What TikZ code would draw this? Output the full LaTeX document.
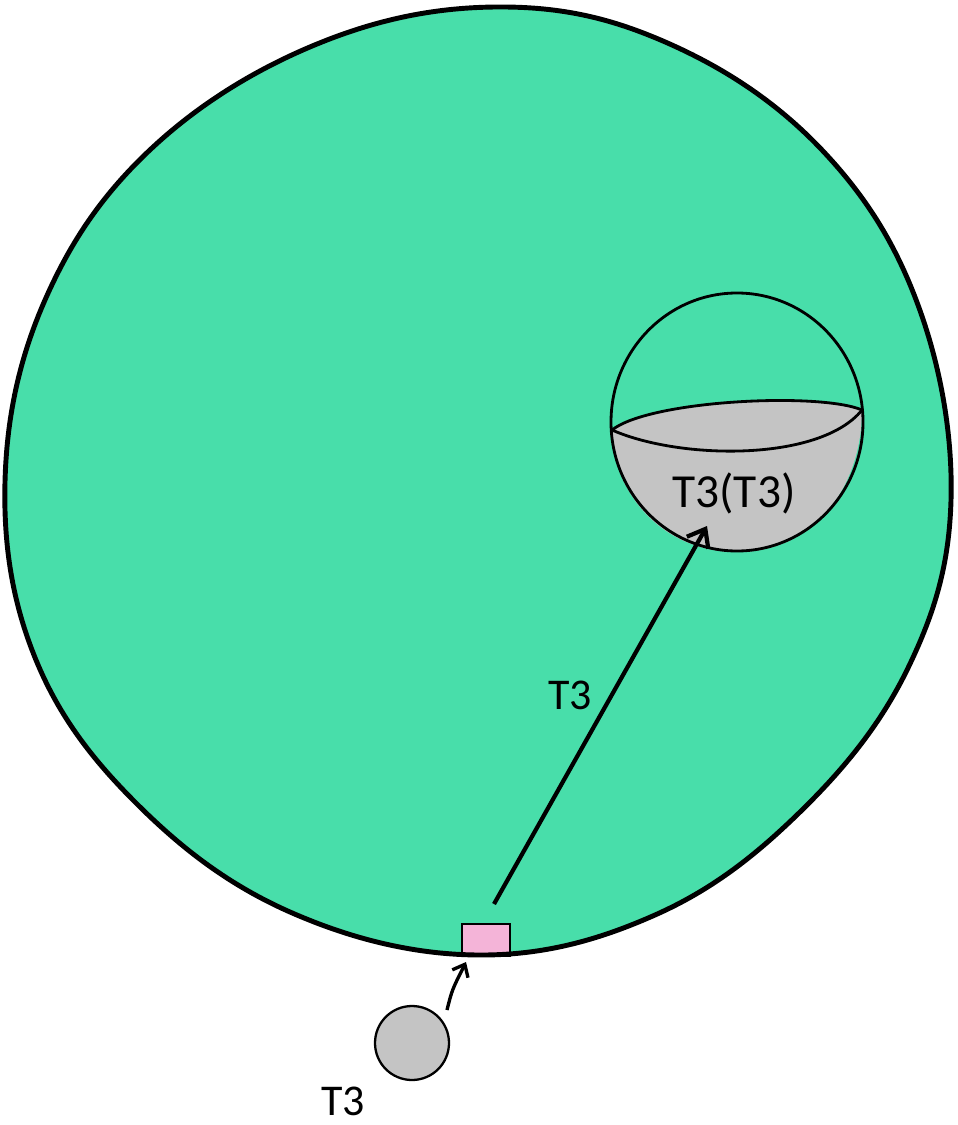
\documentclass[tikz,border=0pt]{standalone}
\usepackage{fontspec}
\setmainfont{Carlito}
\usetikzlibrary{arrows.meta}
\definecolor{cellgreen}{RGB}{72,222,170}
\definecolor{vgray}{RGB}{196,196,196}
\definecolor{pinkbox}{RGB}{244,180,216}
\tikzset{
  outline/.style={draw=black,line width=2.8pt,line join=round},
  thinline/.style={draw=black,line width=1.6pt},
  arr/.style={draw=black,line width=2.4pt,-{Straight Barb[length=9pt,width=14pt,line width=2.4pt]}},
  lbl/.style={font=\fontsize{25}{30}\selectfont,inner sep=0pt}
}
\def\cellpath{plot[smooth cycle,tension=0.64] coordinates {
 (951,500) (918,305) (822,150) (672,45) (505,7) (322,42) (152,148) (45,300)
 (5,482) (36,660) (138,805) (290,912) (478,955) (655,915) (800,812) (908,668)}}
\begin{document}
\begin{tikzpicture}[x=0.02cm,y=-0.02cm]
\useasboundingbox (0,0) rectangle (957,1125);
% big cell
\fill[cellgreen] \cellpath;
% vacuole
\coordinate (vc) at (737,422);
\path[fill=vgray] (612,430) .. controls (650,400) and (820,392) .. (862,410)
  .. controls (862,480) and (820,552) .. (737,552)
  .. controls (660,552) and (612,490) .. (612,430) -- cycle;
\draw[thinline] (vc) ellipse [x radius=126, y radius=129];
\draw[thinline] (612,430) .. controls (650,400) and (820,392) .. (862,410);
\draw[thinline] (612,430) .. controls (680,460) and (820,462) .. (862,410);
\node[lbl,font=\fontsize{27}{32}\selectfont] (inner) at (734,493) {T3(T3)};
% pink transporter
\node[draw=black,line width=1.4pt,fill=pinkbox,minimum width=48*0.02cm,minimum height=32*0.02cm,inner sep=0pt] (pump) at (486,940) {};
\draw[outline] \cellpath;
% small gray particle
\node[circle,draw=black,line width=1.3pt,fill=vgray,minimum size=74*0.02cm,inner sep=0pt] (particle) at (412,1043) {};
\node[lbl,anchor=base] (plabel) at (343,1115) {T3};
% arrows
\coordinate (a1) at (494,904);
\coordinate (a2) at (707,526);
\draw[arr] (a1) -- (a2);
\node[lbl] (mlabel) at (570,695) {T3};
\coordinate (b1) at (447,1010);
\coordinate (b2) at (466,962);
\draw[arr,line width=1.9pt,-{Straight Barb[length=6pt,width=10pt,line width=1.9pt]}] (b1) .. controls (452,990) .. (b2);
\end{tikzpicture}
\end{document}
